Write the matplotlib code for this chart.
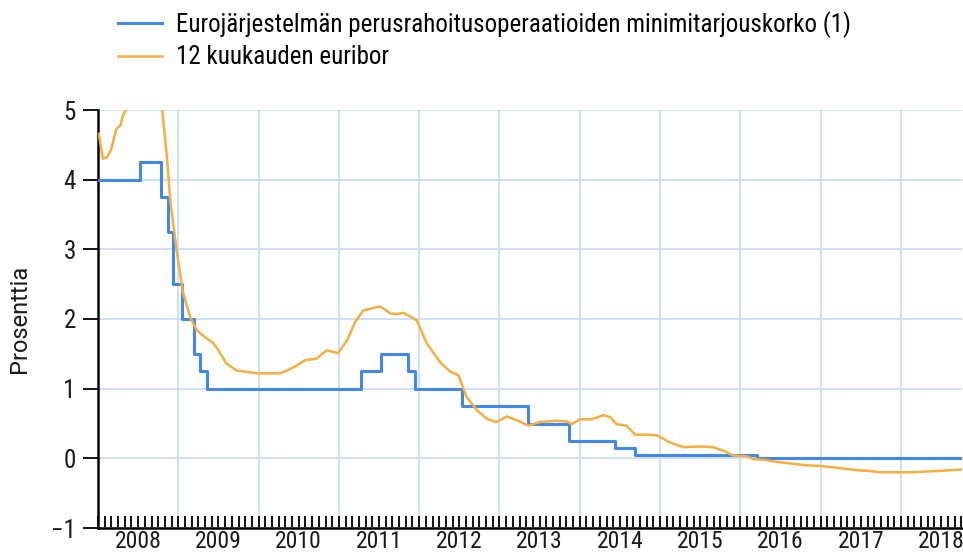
import matplotlib
matplotlib.use('Agg')
from matplotlib import pyplot as plt
from matplotlib.ticker import MultipleLocator, NullFormatter
import numpy as np

# ECB main refinancing rate, change dates as decimal years
ecb_x = [2008.0, 2008.52, 2008.79, 2008.87, 2008.94, 2009.05, 2009.19, 2009.27,
         2009.36, 2011.28, 2011.53, 2011.86, 2011.95, 2012.53, 2013.35, 2013.87,
         2014.44, 2014.69, 2016.21, 2018.76]
ecb_y = [4.00, 4.25, 3.75, 3.25, 2.50, 2.00, 1.50, 1.25,
         1.00, 1.25, 1.50, 1.25, 1.00, 0.75, 0.50, 0.25,
         0.15, 0.05, 0.00, 0.00]

# 12 month euribor
eur_x = [2008.01, 2008.06, 2008.11, 2008.16, 2008.20, 2008.23, 2008.28, 2008.31,
         2008.36, 2008.45, 2008.55, 2008.65, 2008.72, 2008.80, 2008.86, 2008.90,
         2008.98, 2009.06, 2009.15, 2009.23, 2009.33, 2009.44, 2009.50, 2009.60,
         2009.73, 2009.85, 2009.98, 2010.15, 2010.27, 2010.39, 2010.50, 2010.58,
         2010.72, 2010.85, 2010.99, 2011.10, 2011.20, 2011.30, 2011.40, 2011.51,
         2011.57, 2011.64, 2011.72, 2011.80, 2011.93, 2011.97, 2012.09, 2012.26,
         2012.38, 2012.49, 2012.59, 2012.72, 2012.84, 2012.96, 2013.09, 2013.21,
         2013.36, 2013.50, 2013.70, 2013.84, 2013.90, 2014.00, 2014.15, 2014.29,
         2014.38, 2014.46, 2014.58, 2014.69, 2014.83, 2014.96, 2015.12, 2015.29,
         2015.50, 2015.66, 2015.79, 2015.91, 2016.08, 2016.16, 2016.30, 2016.45,
         2016.60, 2016.82, 2017.00, 2017.16, 2017.30, 2017.45, 2017.60, 2017.74,
         2017.95, 2018.15, 2018.30, 2018.49, 2018.62, 2018.76]
eur_y = [4.66, 4.30, 4.32, 4.42, 4.60, 4.73, 4.78, 4.92,
         5.02, 5.20, 5.39, 5.34, 5.40, 5.00, 4.30, 3.70,
         2.98, 2.37, 2.02, 1.84, 1.74, 1.65, 1.55, 1.36,
         1.26, 1.24, 1.22, 1.22, 1.22, 1.28, 1.35, 1.41,
         1.43, 1.55, 1.51, 1.69, 1.95, 2.12, 2.15, 2.18,
         2.14, 2.08, 2.07, 2.09, 2.01, 1.98, 1.66, 1.38,
         1.25, 1.19, 0.88, 0.69, 0.57, 0.52, 0.60, 0.55,
         0.47, 0.52, 0.54, 0.53, 0.49, 0.56, 0.56, 0.62,
         0.59, 0.49, 0.47, 0.34, 0.34, 0.33, 0.23, 0.16,
         0.17, 0.16, 0.11, 0.04, 0.03, -0.01, -0.02, -0.05,
         -0.07, -0.10, -0.11, -0.13, -0.15, -0.17, -0.18, -0.20,
         -0.20, -0.20, -0.19, -0.18, -0.17, -0.16]

years = list(range(2008, 2019))
labels = ['Eurojärjestelmän perusrahoitusoperaatioiden minimitarjouskorko (1)',
          '12 kuukauden euribor']

# the reference text looks squeezed sideways, so a condensed face fits best
plt.rcParams['font.family'] = ['Roboto Condensed', 'Liberation Sans', 'DejaVu Sans']

blue = '#3f88ee'
orange = '#f7ae3d'
gridc = '#c6dbf9'
txtc = '#1a1a1a'

dpi = 100.0
fig = plt.figure(figsize=(9.63, 5.54), dpi=dpi)
ax = fig.add_axes([98/963., 1-528/554., (962-98)/963., (528-110)/554.])

ax.plot(ecb_x, ecb_y, drawstyle='steps-post', color=blue, lw=2.2,
        label=labels[0], zorder=3)
ax.plot(eur_x, eur_y, color=orange, lw=1.8, label=labels[1], zorder=4)

ax.set_xlim(2008.0, 2018.76)
ax.set_ylim(-1, 5)
ax.xaxis.set_major_locator(MultipleLocator(1))
ax.xaxis.set_minor_locator(MultipleLocator(1/12.))
ax.xaxis.set_major_formatter(NullFormatter())
ax.yaxis.set_major_locator(MultipleLocator(1))
ax.grid(True, color=gridc, lw=1.2, zorder=0)
ax.set_axisbelow(True)

ax.tick_params(axis='x', which='both', direction='in', length=9, width=1.3,
               color='black')
ax.tick_params(axis='y', direction='out', length=11, width=1.3, pad=5,
               labelsize=18, labelcolor=txtc)
for s in ['top', 'right']:
    ax.spines[s].set_visible(False)
for s in ['left', 'bottom']:
    ax.spines[s].set_linewidth(1.8)

# year labels sit in the middle of each year, gridlines at year starts
for y in years:
    ax.text(y + 0.5, -14/418., str(y), transform=ax.get_xaxis_transform(),
            ha='center', va='center', fontsize=17, color=txtc)

ax.set_ylabel('Prosenttia', fontsize=17, color=txtc,
              family=['Roboto', 'Liberation Sans', 'DejaVu Sans'])
ax.yaxis.set_label_coords(-(98-31)/864., 0.5)

fig.legend(loc='upper left', bbox_to_anchor=(118/963., 1-11/554.), frameon=False,
           fontsize=18, handlelength=1.75, handletextpad=0.55, labelspacing=0.3,
           borderaxespad=0, borderpad=0)

fig.savefig('out.png', dpi=dpi)
